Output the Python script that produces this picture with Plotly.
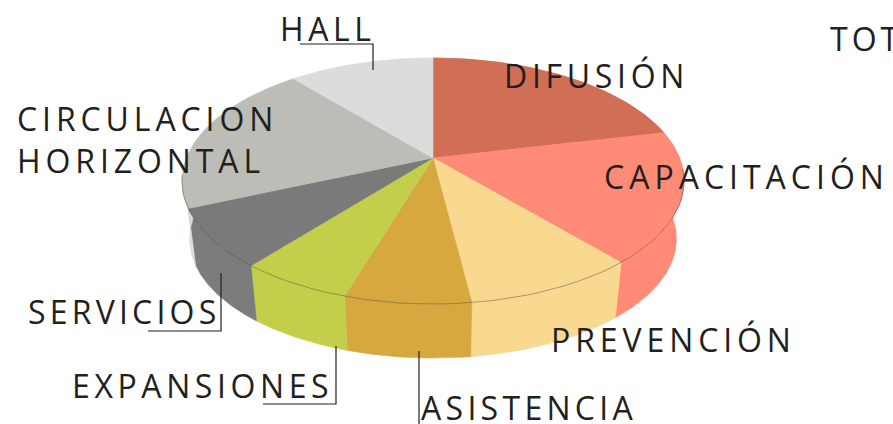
import json
import math
import plotly.graph_objects as go

# Data, clockwise from 12 o'clock
labels = ["DIFUSIÓN", "CAPACITACIÓN", "PREVENCIÓN", "ASISTENCIA", "EXPANSIONES", "SERVICIOS",
          "CIRCULACION<br>HORIZONTAL", "HALL"]
values = [21.4, 17.2, 9.3, 6.8, 6.1, 7.7, 20.2, 11.2]
colors = ["#D06F55", "#FF8A76", "#F9D88F", "#D7A83F", "#C3CF4A", "#7A7A7A", "#BDBDB8", "#DCDCDC"]
wall_colors = ["#D06F55", "#FF8A76", "#F9D88F", "#D7A83F", "#C3CF4A", "#7C7C7C", "#D8DDE2", "#DCDCDC"]

# Projection of the disc onto the page
CX, CY_TOP, CY_BOTTOM = 433, 158, 216.5
A, B, K, BOTTOM_SCALE = 246.6, 118.7, 0.187, 0.97


def project(theta, bottom=False):
    u, v = math.sin(theta), math.cos(theta)
    w = 1 + K * v
    s = BOTTOM_SCALE if bottom else 1
    cy = CY_BOTTOM if bottom else CY_TOP
    return CX + s * A * u / w, cy - s * B * v / w


def arc(start, end, bottom=False, n=60):
    pts = [project(start + (end - start) * i / n, bottom) for i in range(n + 1)]
    return [p[0] for p in pts], [p[1] for p in pts]


total = sum(values)
edges = [0.0]
for val in values:
    edges.append(edges[-1] + val / total * 2 * math.pi)

fig = go.Figure()

# Side walls
for i, col in enumerate(wall_colors):
    tx, ty = arc(edges[i], edges[i + 1])
    bx, by = arc(edges[i], edges[i + 1], True)
    fig.add_trace(go.Scatter(x=tx + bx[::-1] + tx[:1], y=ty + by[::-1] + ty[:1], mode="lines",
                             fill="toself", fillcolor=col, line=dict(width=0.5, color=col),
                             hoverinfo="skip", showlegend=False))

# Top faces
for i, col in enumerate(colors):
    tx, ty = arc(edges[i], edges[i + 1])
    fig.add_trace(go.Scatter(x=[CX] + tx + [CX], y=[CY_TOP] + ty + [CY_TOP], mode="lines",
                             fill="toself", fillcolor=col, line=dict(width=0.5, color=col),
                             name=labels[i], showlegend=False))

# Rim line along the front of the top face
rx, ry = arc(math.radians(95), math.radians(262))
fig.add_trace(go.Scatter(x=rx, y=ry, mode="lines", line=dict(width=1, color="rgba(70,70,60,0.45)"),
                         hoverinfo="skip", showlegend=False))

# Leader lines
leaders = ["M300,44 L373,44 L373,70", "M148,331 L221,331 L221,273",
           "M263,404 L336,404 L336,346", "M419,351 L419,424"]
shapes = [dict(type="path", path=p, xref="x", yref="y", line=dict(color="#231F20", width=1.2)) for p in leaders]

# Text labels: left edge, vertical middle, letter spacing
label_pos = {
    "DIFUSIÓN": (504, 75, 4.7), "CAPACITACIÓN": (604, 176, 5.0), "PREVENCIÓN": (551, 339, 4.9),
    "ASISTENCIA": (421, 407, 4.3), "EXPANSIONES": (72, 385, 4.6), "SERVICIOS": (28, 311, 4.2),
    "CIRCULACION<br>HORIZONTAL": (17, 139, 4.9), "HALL": (280, 28, 4.6), "TOT": (830, 38, 4.0),
}
annotations = [dict(text=t, x=p[0], y=p[1], xref="x", yref="y", showarrow=False, xanchor="left",
                    yanchor="middle", align="left", borderpad=0, borderwidth=0,
                    font=dict(family="Open Sans", size=32, color="#231F20"))
               for t, p in label_pos.items()]
spacing = [p[2] for p in label_pos.values()]

fig.update_layout(
    width=893, height=424, margin=dict(l=0, r=0, t=0, b=0),
    paper_bgcolor="white", plot_bgcolor="white", showlegend=False,
    xaxis=dict(range=[0, 893], visible=False, fixedrange=True),
    yaxis=dict(range=[424, 0], visible=False, fixedrange=True),
    shapes=shapes, annotations=annotations,
)

post = """
document.body.style.margin = '0';
document.body.style.overflow = 'hidden';
var sp = %s;
document.querySelectorAll('.annotation-text').forEach(function (t, i) {
  t.style.letterSpacing = sp[i] + 'px';
});
""" % json.dumps(spacing)
fig.write_html("out.html", post_script=post, config={"displayModeBar": False})
